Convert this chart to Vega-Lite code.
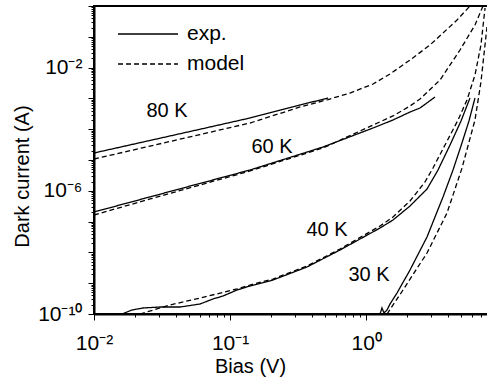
{
  "$schema": "https://vega.github.io/schema/vega-lite/v6.json",
  "width": 395,
  "height": 308,
  "autosize": {"type": "none"},
  "padding": {"left": 94, "top": 6, "right": 0, "bottom": 71},
  "config": {
    "view": {"stroke": "black", "strokeWidth": 2},
    "font": "Liberation Sans",
    "axis": {
      "labelFont": "Liberation Sans", "titleFont": "Liberation Sans",
      "labelFontSize": 21, "titleFontSize": 20, "titleFontWeight": "normal",
      "labelColor": "black", "titleColor": "black",
      "domainColor": "black", "domainWidth": 2,
      "tickColor": "black", "tickWidth": 1, "grid": false,
      "labelOverlap": false, "labelFlush": false
    },
    "legend": {"labelFont": "Liberation Sans", "labelFontSize": 21, "labelColor": "black"}
  },
  "layer": [
    {
      "data": {"values": [
        {"T": "80", "kind": "exp.", "V": 0.01, "I": 1.69e-5},
        {"T": "80", "kind": "exp.", "V": 0.0258, "I": 4.31e-5},
        {"T": "80", "kind": "exp.", "V": 0.0601, "I": 9.95e-5},
        {"T": "80", "kind": "exp.", "V": 0.14, "I": 2.31e-4},
        {"T": "80", "kind": "exp.", "V": 0.327, "I": 6.11e-4},
        {"T": "80", "kind": "exp.", "V": 0.525, "I": 1.03e-3},
        {"T": "80", "kind": "model", "V": 0.01, "I": 1.076e-5},
        {"T": "80", "kind": "model", "V": 0.0258, "I": 2.83e-5},
        {"T": "80", "kind": "model", "V": 0.0601, "I": 6.70e-5},
        {"T": "80", "kind": "model", "V": 0.14, "I": 1.589e-4},
        {"T": "80", "kind": "model", "V": 0.327, "I": 5.26e-4},
        {"T": "80", "kind": "model", "V": 0.525, "I": 9.2e-4},
        {"T": "80", "kind": "model", "V": 0.761, "I": 1.496e-3},
        {"T": "80", "kind": "model", "V": 1.124, "I": 2.934e-3},
        {"T": "80", "kind": "model", "V": 1.498, "I": 6.19e-3},
        {"T": "80", "kind": "model", "V": 2.101, "I": 1.766e-2},
        {"T": "80", "kind": "model", "V": 2.948, "I": 5.42e-2},
        {"T": "80", "kind": "model", "V": 3.673, "I": 0.1327},
        {"T": "80", "kind": "model", "V": 4.656, "I": 0.351},
        {"T": "80", "kind": "model", "V": 5.8, "I": 1.0},
        {"T": "60", "kind": "exp.", "V": 0.01, "I": 2.05e-7},
        {"T": "60", "kind": "exp.", "V": 0.0258, "I": 6.34e-7},
        {"T": "60", "kind": "exp.", "V": 0.0601, "I": 1.734e-6},
        {"T": "60", "kind": "exp.", "V": 0.14, "I": 4.73e-6},
        {"T": "60", "kind": "exp.", "V": 0.482, "I": 2.64e-5},
        {"T": "60", "kind": "exp.", "V": 1.124, "I": 1.094e-4},
        {"T": "60", "kind": "exp.", "V": 1.576, "I": 1.99e-4},
        {"T": "60", "kind": "exp.", "V": 2.101, "I": 3.61e-4},
        {"T": "60", "kind": "exp.", "V": 2.489, "I": 4.88e-4},
        {"T": "60", "kind": "exp.", "V": 3.208, "I": 1.109e-3},
        {"T": "60", "kind": "model", "V": 0.01, "I": 1.636e-7},
        {"T": "60", "kind": "model", "V": 0.0258, "I": 5.42e-7},
        {"T": "60", "kind": "model", "V": 0.0601, "I": 1.542e-6},
        {"T": "60", "kind": "model", "V": 0.14, "I": 4.40e-6},
        {"T": "60", "kind": "model", "V": 0.482, "I": 2.455e-5},
        {"T": "60", "kind": "model", "V": 1.124, "I": 1.368e-4},
        {"T": "60", "kind": "model", "V": 1.576, "I": 2.69e-4},
        {"T": "60", "kind": "model", "V": 2.101, "I": 5.66e-4},
        {"T": "60", "kind": "model", "V": 2.489, "I": 9.57e-4},
        {"T": "60", "kind": "model", "V": 3.491, "I": 3.95e-3},
        {"T": "60", "kind": "model", "V": 4.898, "I": 3.72e-2},
        {"T": "60", "kind": "model", "V": 6.31, "I": 0.2415},
        {"T": "60", "kind": "model", "V": 7.23, "I": 1.0},
        {"T": "40", "kind": "exp.", "V": 0.01607, "I": 1e-10},
        {"T": "40", "kind": "exp.", "V": 0.01902, "I": 1.349e-10},
        {"T": "40", "kind": "exp.", "V": 0.0229, "I": 1.566e-10},
        {"T": "40", "kind": "exp.", "V": 0.0305, "I": 1.686e-10},
        {"T": "40", "kind": "exp.", "V": 0.0429, "I": 1.686e-10},
        {"T": "40", "kind": "exp.", "V": 0.0601, "I": 2.11e-10},
        {"T": "40", "kind": "exp.", "V": 0.0749, "I": 3.07e-10},
        {"T": "40", "kind": "exp.", "V": 0.0887, "I": 3.84e-10},
        {"T": "40", "kind": "exp.", "V": 0.1125, "I": 6.01e-10},
        {"T": "40", "kind": "exp.", "V": 0.14, "I": 8.11e-10},
        {"T": "40", "kind": "exp.", "V": 0.2068, "I": 1.271e-9},
        {"T": "40", "kind": "exp.", "V": 0.3677, "I": 3.36e-9},
        {"T": "40", "kind": "exp.", "V": 0.6427, "I": 1.197e-8},
        {"T": "40", "kind": "exp.", "V": 0.9016, "I": 2.72e-8},
        {"T": "40", "kind": "exp.", "V": 1.265, "I": 6.19e-8},
        {"T": "40", "kind": "exp.", "V": 1.576, "I": 1.127e-7},
        {"T": "40", "kind": "exp.", "V": 2.101, "I": 3.21e-7},
        {"T": "40", "kind": "exp.", "V": 2.802, "I": 1.143e-6},
        {"T": "40", "kind": "exp.", "V": 3.375, "I": 4.73e-6},
        {"T": "40", "kind": "exp.", "V": 4.136, "I": 3.07e-5},
        {"T": "40", "kind": "exp.", "V": 4.98, "I": 1.845e-4},
        {"T": "40", "kind": "exp.", "V": 5.8, "I": 1.03e-3},
        {"T": "40", "kind": "model", "V": 0.02178, "I": 1e-10},
        {"T": "40", "kind": "model", "V": 0.0362, "I": 1.96e-10},
        {"T": "40", "kind": "model", "V": 0.0601, "I": 3.30e-10},
        {"T": "40", "kind": "model", "V": 0.1125, "I": 6.49e-10},
        {"T": "40", "kind": "model", "V": 0.14, "I": 8.74e-10},
        {"T": "40", "kind": "model", "V": 0.2068, "I": 1.368e-9},
        {"T": "40", "kind": "model", "V": 0.3677, "I": 3.61e-9},
        {"T": "40", "kind": "model", "V": 0.6427, "I": 1.289e-8},
        {"T": "40", "kind": "model", "V": 1.265, "I": 7.19e-8},
        {"T": "40", "kind": "model", "V": 1.576, "I": 1.409e-7},
        {"T": "40", "kind": "model", "V": 2.101, "I": 4.67e-7},
        {"T": "40", "kind": "model", "V": 2.708, "I": 1.932e-6},
        {"T": "40", "kind": "model", "V": 3.101, "I": 5.50e-6},
        {"T": "40", "kind": "model", "V": 3.8, "I": 3.07e-5},
        {"T": "40", "kind": "model", "V": 4.736, "I": 1.99e-4},
        {"T": "40", "kind": "model", "V": 5.513, "I": 8.87e-4},
        {"T": "40", "kind": "model", "V": 6.31, "I": 5.75e-3},
        {"T": "40", "kind": "model", "V": 6.98, "I": 5.42e-2},
        {"T": "40", "kind": "model", "V": 7.48, "I": 0.861},
        {"T": "30", "kind": "exp.", "V": 1.265, "I": 1e-10},
        {"T": "30", "kind": "exp.", "V": 1.308, "I": 1.566e-10},
        {"T": "30", "kind": "exp.", "V": 1.353, "I": 1.078e-10},
        {"T": "30", "kind": "exp.", "V": 1.424, "I": 1.349e-10},
        {"T": "30", "kind": "exp.", "V": 1.498, "I": 2.11e-10},
        {"T": "30", "kind": "exp.", "V": 1.687, "I": 4.81e-10},
        {"T": "30", "kind": "exp.", "V": 2.101, "I": 2.68e-9},
        {"T": "30", "kind": "exp.", "V": 2.802, "I": 3.16e-8},
        {"T": "30", "kind": "exp.", "V": 3.673, "I": 6.30e-7},
        {"T": "30", "kind": "exp.", "V": 4.35, "I": 4.73e-6},
        {"T": "30", "kind": "exp.", "V": 4.98, "I": 2.85e-5},
        {"T": "30", "kind": "exp.", "V": 5.7, "I": 1.845e-4},
        {"T": "30", "kind": "exp.", "V": 6.31, "I": 1.03e-3},
        {"T": "30", "kind": "model", "V": 1.424, "I": 1e-10},
        {"T": "30", "kind": "model", "V": 1.866, "I": 6.01e-10},
        {"T": "30", "kind": "model", "V": 2.802, "I": 9.57e-9},
        {"T": "30", "kind": "model", "V": 3.93, "I": 1.90e-7},
        {"T": "30", "kind": "model", "V": 5.067, "I": 5.50e-6},
        {"T": "30", "kind": "model", "V": 6.31, "I": 1.99e-4},
        {"T": "30", "kind": "model", "V": 6.98, "I": 3.40e-3},
        {"T": "30", "kind": "model", "V": 7.73, "I": 0.208}
      ]},
      "mark": {"type": "line", "strokeWidth": 1.3, "color": "black", "clip": true},
      "encoding": {
        "x": {
          "field": "V", "type": "quantitative",
          "scale": {"type": "log", "domain": [0.01, 8], "nice": false},
          "axis": {
            "title": "Bias (V)", "titleX": 156, "titleY": 58, "titleBaseline": "alphabetic", "titleAlign": "center",
            "values": [0.01, 0.02, 0.03, 0.04, 0.05, 0.06, 0.07, 0.08, 0.09, 0.1, 0.2, 0.3, 0.4, 0.5, 0.6, 0.7, 0.8, 0.9, 1, 2, 3, 4, 5, 6, 7, 8],
            "labelExpr": "datum.value == 0.01 ? '10⁻²' : datum.value == 0.1 ? '10⁻¹' : datum.value == 1 ? '10⁰' : ''",
            "tickSize": {"condition": {"test": "abs(log(datum.value)/LN10 - round(log(datum.value)/LN10)) < 0.001", "value": 6}, "value": 3},
            "labelPadding": 12
          }
        },
        "y": {
          "field": "I", "type": "quantitative",
          "scale": {"type": "log", "domain": [1e-10, 1], "nice": false},
          "axis": {
            "title": "Dark current (A)", "titleX": -66, "titleY": 170, "titleBaseline": "alphabetic", "titleAlign": "center", "titleAngle": -90,
            "values": [1e-10, 2e-10, 3e-10, 4e-10, 5e-10, 6e-10, 7e-10, 8e-10, 9e-10, 1e-9, 2e-9, 3e-9, 4e-9, 5e-9, 6e-9, 7e-9, 8e-9, 9e-9, 1e-8, 2e-8, 3e-8, 4e-8, 5e-8, 6e-8, 7e-8, 8e-8, 9e-8, 1e-7, 2e-7, 3e-7, 4e-7, 5e-7, 6e-7, 7e-7, 8e-7, 9e-7, 1e-6, 2e-6, 3e-6, 4e-6, 5e-6, 6e-6, 7e-6, 8e-6, 9e-6, 1e-5, 2e-5, 3e-5, 4e-5, 5e-5, 6e-5, 7e-5, 8e-5, 9e-5, 1e-4, 2e-4, 3e-4, 4e-4, 5e-4, 6e-4, 7e-4, 8e-4, 9e-4, 1e-3, 2e-3, 3e-3, 4e-3, 5e-3, 6e-3, 7e-3, 8e-3, 9e-3, 1e-2, 2e-2, 3e-2, 4e-2, 5e-2, 6e-2, 7e-2, 8e-2, 9e-2, 0.1, 0.2, 0.3, 0.4, 0.5, 0.6, 0.7, 0.8, 0.9, 1],
            "labelExpr": "abs(log(datum.value)/LN10+2)<0.001 ? '10⁻²' : abs(log(datum.value)/LN10+6)<0.001 ? '10⁻⁶' : abs(log(datum.value)/LN10+10)<0.001 ? '10⁻¹⁰' : ''",
            "tickSize": {"condition": {"test": "abs(log(datum.value)/LN10 - round(log(datum.value)/LN10)) < 0.001", "value": 6}, "value": 3},
            "labelPadding": 6
          }
        },
        "detail": {"field": "T"},
        "strokeDash": {
          "field": "kind", "type": "nominal",
          "scale": {"domain": ["exp.", "model"], "range": [[1, 0], [5, 3]]},
          "legend": {
            "orient": "none", "legendX": 38, "legendY": 12, "title": null,
            "symbolType": "M-2,0H2", "symbolSize": 900, "symbolStrokeWidth": 1.3, "symbolStrokeColor": "black",
            "labelOffset": 23, "rowPadding": 4, "padding": 0
          }
        }
      }
    },
    {
      "data": {"values": [
        {"label": "80 K", "V": 0.0344, "I": 3.9e-4},
        {"label": "60 K", "V": 0.2033, "I": 2.64e-5},
        {"label": "40 K", "V": 0.516, "I": 5.33e-8},
        {"label": "30 K", "V": 1.05, "I": 1.845e-9}
      ]},
      "mark": {"type": "text", "fontSize": 20, "font": "Liberation Sans", "align": "center", "baseline": "middle", "color": "black"},
      "encoding": {
        "x": {"field": "V", "type": "quantitative", "title": "Bias (V)"},
        "y": {"field": "I", "type": "quantitative", "title": "Dark current (A)"},
        "text": {"field": "label"}
      }
    }
  ]
}
